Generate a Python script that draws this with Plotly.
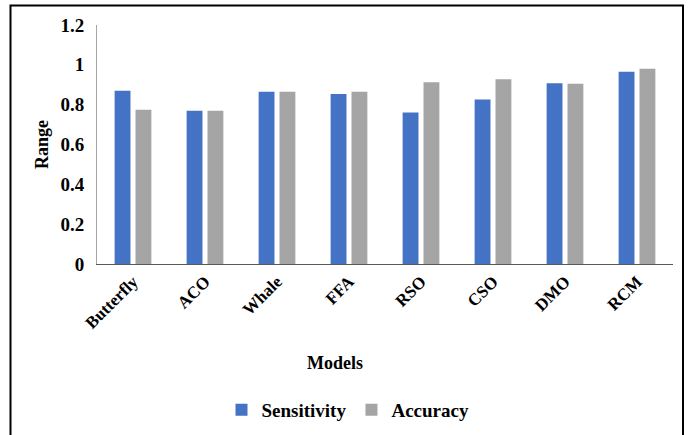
import plotly.graph_objects as go

models = ["Butterfly", "ACO", "Whale", "FFA", "RSO", "CSO", "DMO", "RCM"]
sensitivity = [0.870, 0.769, 0.865, 0.853, 0.761, 0.826, 0.908, 0.965]
accuracy = [0.774, 0.769, 0.865, 0.865, 0.913, 0.928, 0.905, 0.980]
y_ticks = [0, 0.2, 0.4, 0.6, 0.8, 1.0, 1.2]
y_tick_labels = ["0", "0.2", "0.4", "0.6", "0.8", "1", "1.2"]

FONT = "Liberation Serif, Times New Roman, serif"

fig = go.Figure()
fig.add_trace(go.Bar(name="<b>Sensitivity</b>", x=models, y=sensitivity,
                     marker=dict(color="#4472C4", line=dict(width=0))))
fig.add_trace(go.Bar(name="<b>Accuracy</b>", x=models, y=accuracy,
                     marker=dict(color="#A5A5A5", line=dict(width=0))))

W, H = 693, 435
# plot area in window coords: x 97..673, y 25..264
L, R, T, B = 97, 693 - 673, 25, 435 - 264
pw, ph = W - L - R, H - T - B

def px(x):
    return (x - L) / pw

def py(y):
    return (H - B - y) / ph

fig.update_layout(
    width=W, height=H,
    margin=dict(l=L, r=R, t=T, b=B, autoexpand=False),
    paper_bgcolor="white", plot_bgcolor="white",
    barmode="group", bargap=0.42, bargroupgap=0.24,
    font=dict(family=FONT, size=18, color="black"),
    showlegend=True,
    legend=dict(orientation="h", x=px(348), y=py(410), xanchor="center", yanchor="middle",
                font=dict(family=FONT, size=19, color="black"),
                itemwidth=30, traceorder="normal"),
    xaxis=dict(
        tickmode="array", tickvals=models,
        ticktext=["<b>%s</b>" % m for m in models],
        tickangle=-45, tickfont=dict(family=FONT, size=17, color="black"),
        showline=True, linecolor="#595959", linewidth=1,
        showgrid=False, ticks="", zeroline=False,
    ),
    yaxis=dict(
        range=[0, 1.2], tickmode="array", tickvals=y_ticks,
        ticktext=["<b>%s</b>" % t for t in y_tick_labels],
        tickfont=dict(family=FONT, size=19, color="black"),
        showline=True, linecolor="#A6A6A6", linewidth=1,
        showgrid=False, ticks="", zeroline=False, ticklabelstandoff=8,
    ),
    annotations=[
        dict(text="<b>Range</b>", x=px(42), y=py(145), xref="paper", yref="paper",
             xanchor="center", yanchor="middle",
             showarrow=False, textangle=-90, font=dict(family=FONT, size=18, color="black")),
        dict(text="<b>Models</b>", x=px(335), y=py(363), xref="paper", yref="paper",
             xanchor="center", yanchor="middle",
             showarrow=False, font=dict(family=FONT, size=18, color="black")),
    ],
    shapes=[
        dict(type="rect", xref="paper", yref="paper",
             x0=px(10.5), x1=px(683), y0=py(445), y1=py(5.5),
             line=dict(color="black", width=2), fillcolor="rgba(0,0,0,0)", layer="above"),
    ],
)

fig.write_html("out.html", config={"displayModeBar": False},
               post_script="document.body.style.margin='0';document.body.style.padding='0';")
